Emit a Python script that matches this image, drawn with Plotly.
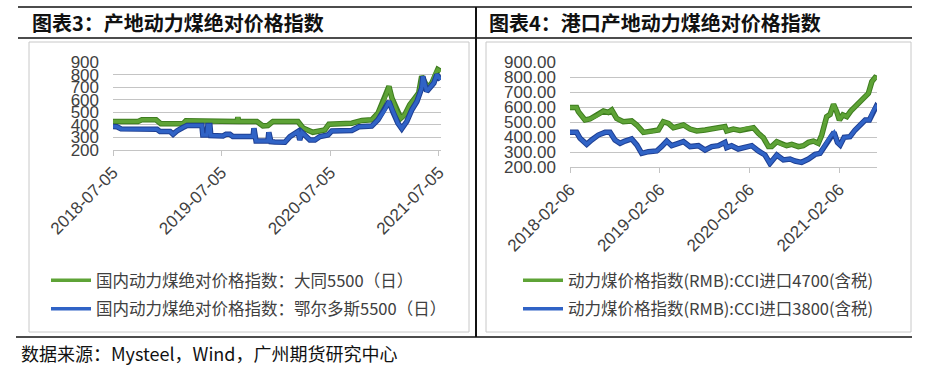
import plotly.graph_objects as go

W, H = 938, 371

# ---------------- data ----------------
left_title = "图表3：产地动力煤绝对价格指数"
right_title = "图表4：港口产地动力煤绝对价格指数"
source_text = "数据来源：Mysteel，Wind，广州期货研究中心"

left_ticks = ["2018-07-05", "2019-07-05", "2020-07-05", "2021-07-05"]
right_ticks = ["2018-02-06", "2019-02-06", "2020-02-06", "2021-02-06"]
left_yticks = [200, 300, 400, 500, 600, 700, 800, 900]
right_yticks = [200, 300, 400, 500, 600, 700, 800, 900]

datong_name = "国内动力煤绝对价格指数：大同5500（日）"
datong_dates = ["2018-07-05", "2018-09-27", "2018-10-10", "2018-11-27", "2018-12-13",
                "2019-02-25", "2019-03-07", "2019-05-27", "2019-08-26", "2019-08-29",
                "2019-09-01", "2019-11-01", "2019-11-21", "2019-12-08", "2019-12-25",
                "2020-03-18", "2020-04-04", "2020-05-07", "2020-06-16", "2020-06-30",
                "2020-09-15", "2020-10-19", "2020-11-21", "2020-12-12", "2021-01-04",
                "2021-01-18", "2021-01-28", "2021-02-14", "2021-02-27", "2021-03-12",
                "2021-03-29", "2021-04-15", "2021-04-28", "2021-05-08", "2021-05-19",
                "2021-05-29", "2021-06-11", "2021-06-21", "2021-07-01", "2021-07-11"]
datong_vals = [427, 427, 440, 440, 408,
               408, 432, 427, 427, 460,
               427, 427, 392, 395, 427,
               427, 375, 341, 360, 405,
               413, 435, 440, 493, 613,
               706, 613, 505, 453, 480,
               560, 613, 653, 786, 745,
               693, 733, 800, 840, 826]

ordos_name = "国内动力煤绝对价格指数：鄂尔多斯5500（日）"
ordos_dates = ["2018-07-05", "2018-07-18", "2018-08-01", "2018-10-04", "2018-11-30",
               "2018-12-10", "2019-01-13", "2019-01-23", "2019-02-05", "2019-02-25",
               "2019-03-11", "2019-04-30", "2019-05-03", "2019-05-17", "2019-05-20",
               "2019-05-27", "2019-05-30", "2019-07-10", "2019-07-20", "2019-08-02",
               "2019-08-12", "2019-10-19", "2019-10-22", "2019-10-29", "2019-12-08",
               "2019-12-11", "2019-12-18", "2019-12-31", "2020-02-03", "2020-02-20",
               "2020-03-18", "2020-03-24", "2020-03-31", "2020-04-27", "2020-05-14",
               "2020-05-31", "2020-06-27", "2020-07-10", "2020-09-15", "2020-10-09",
               "2020-11-21", "2020-12-12", "2021-01-04", "2021-01-18", "2021-01-31",
               "2021-02-17", "2021-03-02", "2021-03-19", "2021-04-05", "2021-04-22",
               "2021-05-08", "2021-05-12", "2021-05-25", "2021-06-04", "2021-06-18",
               "2021-06-28", "2021-07-11"]
ordos_vals = [387, 385, 368, 370, 365,
              347, 347, 325, 352, 379,
              395, 395, 320, 320, 395,
              395, 315, 312, 325, 325,
              307, 307, 373, 272, 272,
              341, 267, 264, 262, 307,
              347, 280, 341, 280, 280,
              307, 320, 352, 355, 385,
              390, 440, 520, 586, 505,
              413, 370, 427, 520, 586,
              693, 786, 666, 693, 733,
              800, 759]

cci4700_name = "动力煤价格指数(RMB):CCI进口4700(含税)"
cci4700_dates = ["2018-02-06", "2018-03-05", "2018-03-12", "2018-04-08", "2018-04-28",
                 "2018-05-26", "2018-06-22", "2018-07-12", "2018-07-26", "2018-08-15",
                 "2018-09-11", "2018-10-15", "2018-11-05", "2018-12-02", "2019-01-05",
                 "2019-02-01", "2019-02-21", "2019-03-14", "2019-04-03", "2019-05-14",
                 "2019-06-10", "2019-07-07", "2019-08-10", "2019-09-06", "2019-10-03",
                 "2019-10-30", "2019-11-06", "2019-12-03", "2019-12-30", "2020-01-27",
                 "2020-02-23", "2020-03-14", "2020-04-03", "2020-04-24", "2020-05-07",
                 "2020-05-28", "2020-06-17", "2020-07-07", "2020-07-28", "2020-08-24",
                 "2020-09-13", "2020-10-04", "2020-10-24", "2020-11-13", "2020-11-27",
                 "2020-12-17", "2020-12-31", "2021-01-14", "2021-01-27", "2021-02-07",
                 "2021-02-21", "2021-03-09", "2021-03-25", "2021-04-12", "2021-05-02",
                 "2021-05-23", "2021-06-05", "2021-06-19", "2021-07-02", "2021-07-09"]
cci4700_vals = [596, 596, 569, 513, 520,
                542, 573, 564, 580, 524,
                502, 507, 480, 431, 436,
                447, 502, 491, 462, 480,
                453, 440, 447, 453, 462,
                469, 440, 453, 444, 458,
                462, 424, 396, 336, 336,
                369, 351, 342, 351, 336,
                342, 364, 373, 358, 413,
                536, 551, 618, 569, 513,
                547, 536, 573, 602, 636,
                662, 691, 769, 796, 791]

cci3800_name = "动力煤价格指数(RMB):CCI进口3800(含税)"
cci3800_dates = ["2018-02-06", "2018-03-05", "2018-03-19", "2018-04-15", "2018-05-05",
                 "2018-06-01", "2018-06-29", "2018-07-19", "2018-08-08", "2018-08-29",
                 "2018-09-18", "2018-10-15", "2018-11-05", "2018-11-25", "2018-12-22",
                 "2019-01-25", "2019-02-14", "2019-03-07", "2019-03-27", "2019-04-23",
                 "2019-05-14", "2019-06-10", "2019-07-14", "2019-08-10", "2019-09-06",
                 "2019-10-03", "2019-10-30", "2019-11-06", "2019-11-26", "2019-12-23",
                 "2020-01-20", "2020-02-16", "2020-03-14", "2020-04-10", "2020-04-30",
                 "2020-05-28", "2020-06-24", "2020-07-21", "2020-08-10", "2020-09-06",
                 "2020-10-04", "2020-10-31", "2020-11-20", "2020-12-11", "2020-12-31",
                 "2021-01-16", "2021-01-30", "2021-02-10", "2021-02-26", "2021-03-22",
                 "2021-04-12", "2021-05-02", "2021-05-23", "2021-06-09", "2021-06-23",
                 "2021-07-06", "2021-07-09"]
cci3800_vals = [431, 431, 391, 351, 380,
                413, 431, 431, 380, 358,
                373, 387, 347, 291, 302,
                307, 336, 373, 342, 358,
                369, 336, 342, 313, 336,
                342, 364, 329, 342, 320,
                329, 342, 307, 280, 224,
                280, 247, 253, 240, 231,
                253, 284, 291, 347, 402,
                431, 364, 347, 398, 402,
                447, 480, 513, 513, 569,
                602, 596]

left_xrange = ["2018-07-05", "2021-07-12"]
right_xrange = ["2018-02-06", "2021-07-10"]

# ---------------- styles ----------------
GREEN, GREEN_D = "#5ea336", "#3e7d1f"
BLUE, BLUE_D = "#3063c6", "#1e3f92"
GRID = "#c4c4c4"
TICK_COLOR = "#404040"
CJK = "Noto Sans CJK SC"


def px(x):
    return x / W


def py(y):
    return 1 - y / H


fig = go.Figure()


def add_series(dates, vals, name, color, dark, xa, ya, legend):
    fig.add_trace(go.Scatter(x=dates, y=vals, mode="lines", xaxis=xa, yaxis=ya,
                             line=dict(color=dark, width=5.5), showlegend=False,
                             hoverinfo="skip"))
    fig.add_trace(go.Scatter(x=dates, y=vals, mode="lines", xaxis=xa, yaxis=ya,
                             name=name, legend=legend, legendgroup=name,
                             line=dict(color=color, width=3.5)))


add_series(datong_dates, datong_vals, datong_name, GREEN, GREEN_D, "x", "y", "legend")
add_series(ordos_dates, ordos_vals, ordos_name, BLUE, BLUE_D, "x", "y", "legend")
add_series(cci4700_dates, cci4700_vals, cci4700_name, GREEN, GREEN_D, "x2", "y2", "legend2")
add_series(cci3800_dates, cci3800_vals, cci3800_name, BLUE, BLUE_D, "x2", "y2", "legend2")

tickfont = dict(family="Liberation Sans, Arial, sans-serif", size=17, color=TICK_COLOR)

xcommon = dict(type="date", showgrid=False, showline=True, linecolor=GRID, linewidth=1,
               ticks="outside", ticklen=5, tickcolor=GRID, tickangle=-45,
               tickfont=tickfont, zeroline=False, fixedrange=True, automargin=False)
ycommon = dict(range=[200, 900], showgrid=True, gridcolor=GRID, gridwidth=1,
               showline=False, ticks="", tickfont=tickfont, zeroline=False,
               ticklabelstandoff=13, fixedrange=True, automargin=False)

legend_font = dict(family=CJK, size=16.5, color="#404040")

fig.update_layout(
    width=W, height=H, autosize=False,
    margin=dict(l=0, r=0, t=0, b=0, pad=0, autoexpand=False),
    paper_bgcolor="white", plot_bgcolor="white",
    xaxis=dict(xcommon, domain=[px(113), px(441)], anchor="y", range=left_xrange,
               tickvals=left_ticks, ticktext=left_ticks),
    yaxis=dict(ycommon, domain=[py(150), py(62)], anchor="x",
               tickvals=left_yticks, ticktext=[str(v) for v in left_yticks]),
    xaxis2=dict(xcommon, domain=[px(570), px(877)], anchor="y2", range=right_xrange,
                tickvals=right_ticks, ticktext=right_ticks),
    yaxis2=dict(ycommon, domain=[py(167), py(62)], anchor="x2",
                tickvals=right_yticks, ticktext=["%.2f" % v for v in right_yticks]),
    legend=dict(x=px(46), y=py(263), xanchor="left", yanchor="top",
                bgcolor="rgba(0,0,0,0)", font=legend_font,
                itemwidth=40, traceorder="grouped", tracegroupgap=4),
    legend2=dict(x=px(518), y=py(263), xanchor="left", yanchor="top",
                 bgcolor="rgba(0,0,0,0)", font=legend_font,
                 itemwidth=40, traceorder="grouped", tracegroupgap=4),
    showlegend=True,
)

shapes = []
# chart boxes
shapes.append(dict(type="rect", xref="paper", yref="paper", x0=px(29), x1=px(469),
                   y0=py(332), y1=py(42), line=dict(color="#c8c8c8", width=1)))
shapes.append(dict(type="rect", xref="paper", yref="paper", x0=px(486), x1=px(911),
                   y0=py(332), y1=py(42), line=dict(color="#c8c8c8", width=1)))
# black frame lines
for (x0, y0, x1, y1, w) in [(18, 7, 912, 7, 1.5), (18, 38, 912, 38, 1.5),
                            (16, 337, 912, 337, 1.5), (476, 7, 476, 337, 2)]:
    shapes.append(dict(type="line", xref="paper", yref="paper", x0=px(x0), x1=px(x1),
                       y0=py(y0), y1=py(y1), line=dict(color="#111111", width=w)))
fig.update_layout(shapes=shapes)

title_font = dict(family=CJK, size=20, color="#111111")
fig.add_annotation(text="<b>%s</b>" % left_title, xref="paper", yref="paper",
                   x=px(30), y=py(23), xanchor="left", yanchor="middle",
                   showarrow=False, font=title_font)
fig.add_annotation(text="<b>%s</b>" % right_title, xref="paper", yref="paper",
                   x=px(487), y=py(23), xanchor="left", yanchor="middle",
                   showarrow=False, font=title_font)
fig.add_annotation(text=source_text, xref="paper", yref="paper",
                   x=px(19), y=py(353), xanchor="left", yanchor="middle",
                   showarrow=False, font=dict(family=CJK, size=18, color="#111111"))

fig.write_html("out.html", config={"displayModeBar": False},
               post_script="document.body.style.margin='0';document.body.style.padding='0';")
